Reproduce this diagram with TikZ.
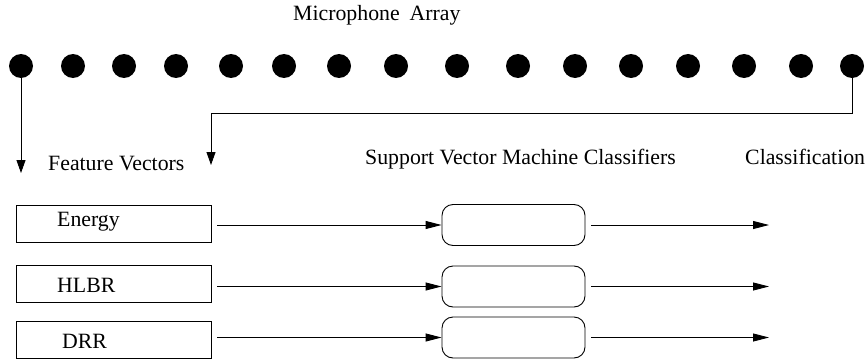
\documentclass[tikz,border=0pt]{standalone}
\usepackage{fontspec}
\setmainfont{Liberation Serif}
\usetikzlibrary{arrows.meta}
\begin{document}
\begin{tikzpicture}[x=1pt,y=-1pt,
  every node/.style={font=\fontsize{21.8}{26}\selectfont},
  mic/.style={circle,fill=black,minimum size=24pt,inner sep=0pt},
  featbox/.style={draw,line width=0.9pt,minimum width=195pt,minimum height=37pt,inner sep=0pt},
  svmbox/.style={draw,rounded corners=11pt,line width=0.9pt,minimum width=143pt,minimum height=41pt,inner sep=0pt},
  lbl/.style={anchor=base west,inner sep=0pt},
  link/.style={line width=0.9pt,-{Triangle[length=16pt,width=8pt]}},
  drop/.style={line width=0.9pt,-{Triangle[length=13pt,width=9pt]}},
]
\useasboundingbox (0,0) rectangle (866,361);

% microphone array
\node[lbl] (title) at (293,21) {Microphone\hspace{0.45em}Array};
\foreach \x [count=\i] in {21,73,124,176,231,284,339,396,457,518,575,631,688,744,801,852}
  \node[mic] (m\i) at (\x,66) {};

% column headings
\node[lbl] (hfeat) at (48,170) {Feature Vectors};
\node[lbl] (hsvm) at (365,164) {Support Vector Machine Classifiers};
\node[lbl] (hcls) at (745,164) {Classification};

% feeds from the array
\coordinate (fv1) at (21,173);
\coordinate (fv2) at (211,165);
\draw[drop] (m1.south) -- (fv1);
\draw[drop] (m16.south) -- ++(0,35) -| (fv2);

% feature boxes
\node[featbox] (energy) at (113.5,223.5) {};
\node[featbox] (hlbr) at (113.5,284) {};
\node[featbox] (drr) at (113.5,340) {};
\node[lbl] (tenergy) at (57,226) {Energy};
\node[lbl] (thlbr) at (57,292.5) {HLBR};
\node[lbl] (tdrr) at (62,348) {DRR};

% classifiers
\node[svmbox] (svm1) at (513.5,225) {};
\node[svmbox] (svm2) at (513.5,286.5) {};
\node[svmbox] (svm3) at (513.5,337.5) {};

% outputs
\coordinate (out1) at (769,225);
\coordinate (out2) at (769,286.5);
\coordinate (out3) at (769,337.5);

\foreach \f/\s/\o in {energy/svm1/out1,hlbr/svm2/out2,drr/svm3/out3}{
  \draw[link,shorten <=6pt] (\f.east |- \s.west) -- (\s.west);
  \draw[link,shorten <=6pt] (\s.east) -- (\o);
}
\end{tikzpicture}
\end{document}
